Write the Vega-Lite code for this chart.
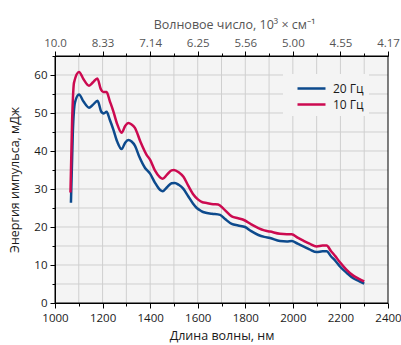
{
  "$schema": "https://vega.github.io/schema/vega-lite/v6.json",
  "autosize": "none",
  "width": 333,
  "height": 247,
  "padding": {"left": 55, "top": 56, "right": 13, "bottom": 42},
  "config": {
    "view": {"stroke": null},
    "axis": {
      "labelFont": "Open Sans",
      "labelFontSize": 11.5,
      "labelColor": "#1a1a1a",
      "titleFont": "Open Sans",
      "titleFontSize": 12.5,
      "titleFontWeight": "normal",
      "titleColor": "#1a1a1a",
      "domainColor": "black",
      "tickColor": "black"
    },
    "legend": {
      "labelFont": "Open Sans",
      "labelFontSize": 12,
      "labelFontWeight": "normal",
      "labelColor": "#1a1a1a"
    }
  },
  "data": {
    "values": [
      {"wl": 1067, "e": 26.4, "s": "20 Гц"},
      {"wl": 1075, "e": 45.0, "s": "20 Гц"},
      {"wl": 1084, "e": 52.8, "s": "20 Гц"},
      {"wl": 1101, "e": 54.9, "s": "20 Гц"},
      {"wl": 1120, "e": 53.0, "s": "20 Гц"},
      {"wl": 1143, "e": 51.4, "s": "20 Гц"},
      {"wl": 1160, "e": 52.2, "s": "20 Гц"},
      {"wl": 1179, "e": 53.2, "s": "20 Гц"},
      {"wl": 1195, "e": 50.3, "s": "20 Гц"},
      {"wl": 1205, "e": 49.9, "s": "20 Гц"},
      {"wl": 1217, "e": 50.3, "s": "20 Гц"},
      {"wl": 1230, "e": 48.3, "s": "20 Гц"},
      {"wl": 1245, "e": 45.7, "s": "20 Гц"},
      {"wl": 1262, "e": 42.4, "s": "20 Гц"},
      {"wl": 1280, "e": 40.5, "s": "20 Гц"},
      {"wl": 1295, "e": 42.2, "s": "20 Гц"},
      {"wl": 1308, "e": 42.9, "s": "20 Гц"},
      {"wl": 1322, "e": 42.5, "s": "20 Гц"},
      {"wl": 1336, "e": 41.4, "s": "20 Гц"},
      {"wl": 1355, "e": 38.4, "s": "20 Гц"},
      {"wl": 1378, "e": 35.6, "s": "20 Гц"},
      {"wl": 1399, "e": 34.1, "s": "20 Гц"},
      {"wl": 1420, "e": 31.7, "s": "20 Гц"},
      {"wl": 1441, "e": 29.8, "s": "20 Гц"},
      {"wl": 1453, "e": 29.4, "s": "20 Гц"},
      {"wl": 1470, "e": 30.4, "s": "20 Гц"},
      {"wl": 1490, "e": 31.5, "s": "20 Гц"},
      {"wl": 1504, "e": 31.6, "s": "20 Гц"},
      {"wl": 1520, "e": 31.1, "s": "20 Гц"},
      {"wl": 1539, "e": 30.1, "s": "20 Гц"},
      {"wl": 1560, "e": 28.1, "s": "20 Гц"},
      {"wl": 1580, "e": 26.2, "s": "20 Гц"},
      {"wl": 1596, "e": 25.0, "s": "20 Гц"},
      {"wl": 1615, "e": 24.2, "s": "20 Гц"},
      {"wl": 1630, "e": 23.8, "s": "20 Гц"},
      {"wl": 1660, "e": 23.5, "s": "20 Гц"},
      {"wl": 1694, "e": 23.2, "s": "20 Гц"},
      {"wl": 1715, "e": 22.1, "s": "20 Гц"},
      {"wl": 1743, "e": 20.8, "s": "20 Гц"},
      {"wl": 1770, "e": 20.4, "s": "20 Гц"},
      {"wl": 1799, "e": 20.0, "s": "20 Гц"},
      {"wl": 1825, "e": 18.9, "s": "20 Гц"},
      {"wl": 1855, "e": 17.9, "s": "20 Гц"},
      {"wl": 1880, "e": 17.4, "s": "20 Гц"},
      {"wl": 1904, "e": 17.1, "s": "20 Гц"},
      {"wl": 1946, "e": 16.3, "s": "20 Гц"},
      {"wl": 1975, "e": 16.2, "s": "20 Гц"},
      {"wl": 1995, "e": 16.3, "s": "20 Гц"},
      {"wl": 2020, "e": 15.6, "s": "20 Гц"},
      {"wl": 2044, "e": 14.9, "s": "20 Гц"},
      {"wl": 2070, "e": 14.1, "s": "20 Гц"},
      {"wl": 2100, "e": 13.4, "s": "20 Гц"},
      {"wl": 2125, "e": 13.6, "s": "20 Гц"},
      {"wl": 2142, "e": 13.6, "s": "20 Гц"},
      {"wl": 2160, "e": 12.3, "s": "20 Гц"},
      {"wl": 2180, "e": 11.0, "s": "20 Гц"},
      {"wl": 2198, "e": 9.6, "s": "20 Гц"},
      {"wl": 2225, "e": 8.0, "s": "20 Гц"},
      {"wl": 2254, "e": 6.5, "s": "20 Гц"},
      {"wl": 2280, "e": 5.7, "s": "20 Гц"},
      {"wl": 2300, "e": 5.1, "s": "20 Гц"},
      {"wl": 1065, "e": 29.1, "s": "10 Гц"},
      {"wl": 1072, "e": 48.0, "s": "10 Гц"},
      {"wl": 1080, "e": 58.0, "s": "10 Гц"},
      {"wl": 1101, "e": 60.8, "s": "10 Гц"},
      {"wl": 1120, "e": 58.9, "s": "10 Гц"},
      {"wl": 1143, "e": 57.2, "s": "10 Гц"},
      {"wl": 1160, "e": 58.1, "s": "10 Гц"},
      {"wl": 1178, "e": 59.1, "s": "10 Гц"},
      {"wl": 1193, "e": 56.2, "s": "10 Гц"},
      {"wl": 1203, "e": 55.5, "s": "10 Гц"},
      {"wl": 1217, "e": 55.5, "s": "10 Гц"},
      {"wl": 1230, "e": 53.2, "s": "10 Гц"},
      {"wl": 1245, "e": 50.5, "s": "10 Гц"},
      {"wl": 1262, "e": 47.0, "s": "10 Гц"},
      {"wl": 1280, "e": 44.8, "s": "10 Гц"},
      {"wl": 1295, "e": 46.6, "s": "10 Гц"},
      {"wl": 1308, "e": 47.4, "s": "10 Гц"},
      {"wl": 1322, "e": 47.0, "s": "10 Гц"},
      {"wl": 1336, "e": 46.1, "s": "10 Гц"},
      {"wl": 1360, "e": 42.3, "s": "10 Гц"},
      {"wl": 1385, "e": 39.0, "s": "10 Гц"},
      {"wl": 1399, "e": 37.8, "s": "10 Гц"},
      {"wl": 1420, "e": 34.9, "s": "10 Гц"},
      {"wl": 1441, "e": 33.1, "s": "10 Гц"},
      {"wl": 1453, "e": 32.7, "s": "10 Гц"},
      {"wl": 1470, "e": 33.7, "s": "10 Гц"},
      {"wl": 1490, "e": 34.9, "s": "10 Гц"},
      {"wl": 1500, "e": 35.0, "s": "10 Гц"},
      {"wl": 1520, "e": 34.4, "s": "10 Гц"},
      {"wl": 1540, "e": 33.2, "s": "10 Гц"},
      {"wl": 1560, "e": 30.9, "s": "10 Гц"},
      {"wl": 1580, "e": 28.7, "s": "10 Гц"},
      {"wl": 1602, "e": 27.2, "s": "10 Гц"},
      {"wl": 1620, "e": 26.5, "s": "10 Гц"},
      {"wl": 1638, "e": 26.3, "s": "10 Гц"},
      {"wl": 1665, "e": 26.0, "s": "10 Гц"},
      {"wl": 1686, "e": 25.9, "s": "10 Гц"},
      {"wl": 1710, "e": 24.7, "s": "10 Гц"},
      {"wl": 1743, "e": 22.8, "s": "10 Гц"},
      {"wl": 1770, "e": 22.3, "s": "10 Гц"},
      {"wl": 1792, "e": 21.9, "s": "10 Гц"},
      {"wl": 1825, "e": 20.7, "s": "10 Гц"},
      {"wl": 1855, "e": 19.7, "s": "10 Гц"},
      {"wl": 1880, "e": 19.1, "s": "10 Гц"},
      {"wl": 1904, "e": 18.8, "s": "10 Гц"},
      {"wl": 1946, "e": 18.2, "s": "10 Гц"},
      {"wl": 1975, "e": 18.1, "s": "10 Гц"},
      {"wl": 1995, "e": 18.1, "s": "10 Гц"},
      {"wl": 2020, "e": 17.2, "s": "10 Гц"},
      {"wl": 2044, "e": 16.4, "s": "10 Гц"},
      {"wl": 2070, "e": 15.6, "s": "10 Гц"},
      {"wl": 2100, "e": 14.9, "s": "10 Гц"},
      {"wl": 2125, "e": 15.1, "s": "10 Гц"},
      {"wl": 2142, "e": 15.1, "s": "10 Гц"},
      {"wl": 2160, "e": 13.7, "s": "10 Гц"},
      {"wl": 2180, "e": 12.2, "s": "10 Гц"},
      {"wl": 2198, "e": 10.7, "s": "10 Гц"},
      {"wl": 2225, "e": 8.8, "s": "10 Гц"},
      {"wl": 2254, "e": 7.2, "s": "10 Гц"},
      {"wl": 2280, "e": 6.3, "s": "10 Гц"},
      {"wl": 2300, "e": 5.7, "s": "10 Гц"}
    ]
  },
  "resolve": {"axis": {"x": "independent", "y": "independent"}},
  "layer": [
    {
      "data": {"values": [{}]},
      "mark": {"type": "rect", "fill": "#f4f4f4"},
      "encoding": {
        "x": {"datum": 1000, "type": "quantitative", "axis": null, "scale": {"domain": [1000, 2400], "nice": false, "zero": false}},
        "x2": {"datum": 2400},
        "y": {"datum": 0, "type": "quantitative", "axis": null, "scale": {"domain": [0, 65], "nice": false}},
        "y2": {"datum": 65}
      }
    },
    {
      "data": {"values": [{"gx": 1100}, {"gx": 1200}, {"gx": 1300}, {"gx": 1400}, {"gx": 1500}, {"gx": 1600}, {"gx": 1700}, {"gx": 1800}, {"gx": 1900}, {"gx": 2000}, {"gx": 2100}, {"gx": 2200}, {"gx": 2300}]},
      "mark": {"type": "rule", "color": "#cfcfcf", "strokeWidth": 1},
      "encoding": {
        "x": {
          "field": "gx",
          "type": "quantitative",
          "scale": {"domain": [1000, 2400], "nice": false, "zero": false},
          "axis": {
            "orient": "top",
            "zindex": 1,
            "title": "Волновое число, 10³ × см⁻¹",
            "titleColor": "#555555",
            "labelColor": "#555555",
            "values": [1000, 1100, 1200, 1300, 1400, 1500, 1600, 1700, 1800, 1900, 2000, 2100, 2200, 2300, 2400],
            "labelExpr": "datum.value % 200 == 0 ? (datum.value == 1000 ? '10.0' : format(10000 / datum.value, '.2f')) : ''",
            "tickSize": {"condition": {"test": "datum.value % 200 == 0", "value": 5}, "value": 3},
            "labelPadding": 3,
            "labelFlush": false,
            "titlePadding": 6,
            "titleX": 179,
            "grid": false
          }
        }
      }
    },
    {
      "data": {"values": [{"gy": 5}, {"gy": 10}, {"gy": 15}, {"gy": 20}, {"gy": 25}, {"gy": 30}, {"gy": 35}, {"gy": 40}, {"gy": 45}, {"gy": 50}, {"gy": 55}, {"gy": 60}]},
      "mark": {"type": "rule", "color": "#cfcfcf", "strokeWidth": 1},
      "encoding": {
        "y": {"field": "gy", "type": "quantitative", "axis": null, "scale": {"domain": [0, 65], "nice": false}}
      }
    },
    {
      "transform": [{"filter": {"field": "s", "equal": "20 Гц"}}],
      "mark": {"type": "line", "interpolate": "monotone", "strokeWidth": 2.5},
      "encoding": {
        "x": {
          "field": "wl",
          "type": "quantitative",
          "scale": {"domain": [1000, 2400], "nice": false, "zero": false},
          "axis": {
            "orient": "bottom",
            "zindex": 1,
            "title": "Длина волны, нм",
            "values": [1000, 1100, 1200, 1300, 1400, 1500, 1600, 1700, 1800, 1900, 2000, 2100, 2200, 2300, 2400],
            "labelExpr": "datum.value % 200 == 0 ? datum.label : ''",
            "format": "d",
            "tickSize": {"condition": {"test": "datum.value % 200 == 0", "value": 5}, "value": 3},
            "labelPadding": 4,
            "labelFlush": false,
            "titlePadding": 6,
            "grid": false
          }
        },
        "y": {
          "field": "e",
          "type": "quantitative",
          "scale": {"domain": [0, 65], "nice": false},
          "axis": {
            "orient": "left",
            "zindex": 1,
            "title": "Энергия импульса, мДж",
            "values": [0, 5, 10, 15, 20, 25, 30, 35, 40, 45, 50, 55, 60, 65],
            "labelExpr": "datum.value % 10 == 0 && datum.value < 65 ? datum.label : ''",
            "tickSize": {"condition": {"test": "datum.value % 10 == 0", "value": 5}, "value": 3},
            "labelPadding": 3,
            "labelFlush": false,
            "titlePadding": 12,
            "grid": false
          }
        },
        "color": {
          "datum": "20 Гц",
          "type": "nominal",
          "scale": {"domain": ["20 Гц", "10 Гц"], "range": ["#0d4a8d", "#cc0a50"]},
          "legend": {
            "title": null,
            "orient": "none",
            "legendX": 228,
            "legendY": 18,
            "zindex": 1,
            "fillColor": "#f4f4f4",
            "padding": 5,
            "symbolType": "M0,0H3.5",
            "symbolSize": 256,
            "symbolStrokeWidth": 2.5,
            "labelOffset": 26,
            "rowPadding": 0
          }
        }
      }
    },
    {
      "transform": [{"filter": {"field": "s", "equal": "10 Гц"}}],
      "mark": {"type": "line", "interpolate": "monotone", "strokeWidth": 2.5},
      "encoding": {
        "x": {"field": "wl", "type": "quantitative", "axis": null},
        "y": {"field": "e", "type": "quantitative", "axis": null},
        "color": {
          "datum": "10 Гц",
          "type": "nominal",
          "scale": {"domain": ["20 Гц", "10 Гц"], "range": ["#0d4a8d", "#cc0a50"]},
          "legend": {
            "title": null,
            "orient": "none",
            "legendX": 228,
            "legendY": 18,
            "zindex": 1,
            "fillColor": "#f4f4f4",
            "padding": 5,
            "symbolType": "M0,0H3.5",
            "symbolSize": 256,
            "symbolStrokeWidth": 2.5,
            "labelOffset": 26,
            "rowPadding": 0
          }
        }
      }
    },
    {
      "data": {"values": [{}]},
      "mark": {"type": "rect", "filled": false, "stroke": "black", "strokeWidth": 1},
      "encoding": {
        "x": {"datum": 1000, "type": "quantitative", "axis": null},
        "x2": {"datum": 2400},
        "y": {"datum": 0, "type": "quantitative", "axis": null},
        "y2": {"datum": 65}
      }
    }
  ]
}
